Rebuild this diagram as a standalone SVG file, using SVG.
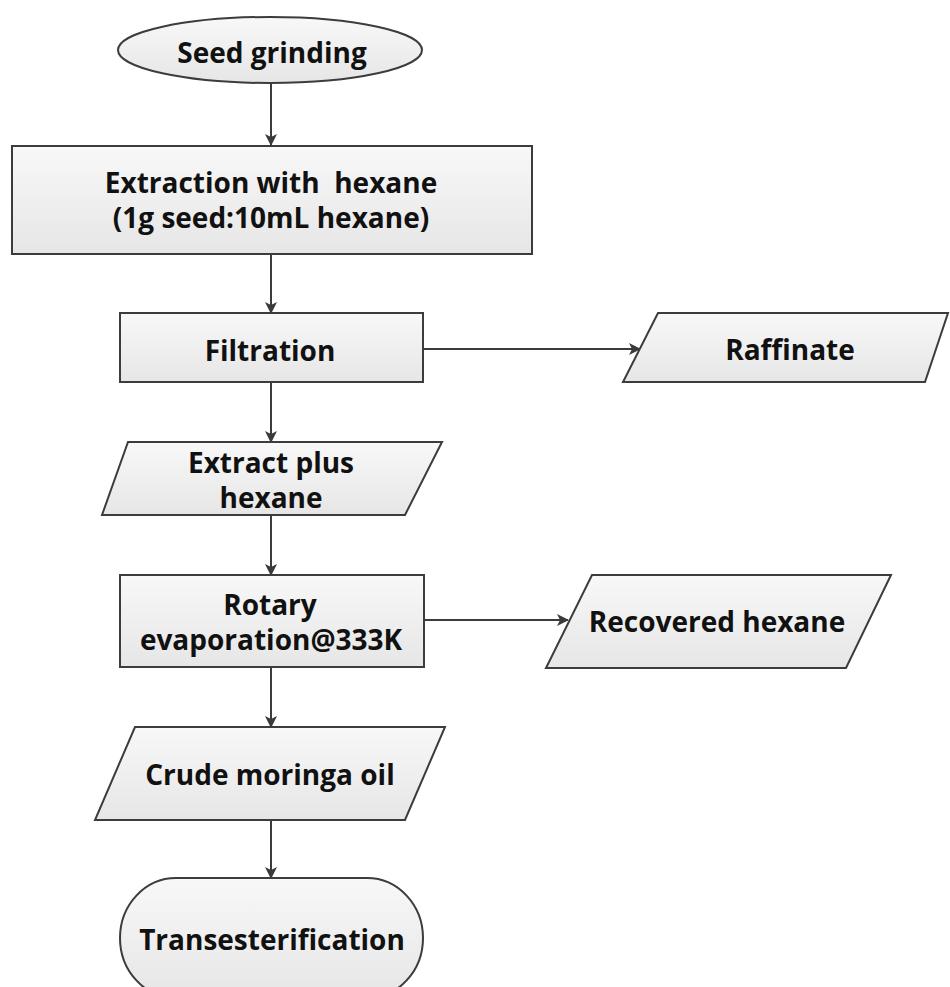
<svg xmlns="http://www.w3.org/2000/svg" width="950" height="987" viewBox="0 0 950 987">
<defs>
<linearGradient id="fillg" x1="0" y1="0" x2="0" y2="1">
<stop offset="0" stop-color="#f8f8f8"/>
<stop offset="1" stop-color="#e6e6e6"/>
</linearGradient>
<marker id="arr" viewBox="0 0 12 12" refX="11" refY="6" markerWidth="12" markerHeight="12" markerUnits="userSpaceOnUse" orient="auto">
<path d="M0,0 L12,6 L0,12 L3,6 z" fill="#3a3a3a"/>
</marker>
<style>
.shape{fill:url(#fillg);stroke:#3c3c3c;stroke-width:2}
.lbl{font-family:"Open Sans","DejaVu Sans",sans-serif;font-weight:700;font-size:28px;fill:#111;text-anchor:middle}
.conn{stroke:#3c3c3c;stroke-width:2;fill:none;marker-end:url(#arr)}
</style>
</defs>
<rect width="950" height="987" fill="#ffffff"/>
<g id="connectors">
<line class="conn" x1="271" y1="83" x2="271" y2="145"/>
<line class="conn" x1="271" y1="254" x2="271" y2="313"/>
<line class="conn" x1="423" y1="349" x2="640" y2="349"/>
<line class="conn" x1="271" y1="382" x2="271" y2="442"/>
<line class="conn" x1="271" y1="515" x2="271" y2="575"/>
<line class="conn" x1="424" y1="620" x2="568" y2="620"/>
<line class="conn" x1="271" y1="667" x2="271" y2="727"/>
<line class="conn" x1="271" y1="820" x2="271" y2="878"/>
</g>
<g id="seed-grinding">
<ellipse class="shape" cx="270" cy="50" rx="152" ry="33"/>
<text class="lbl" x="272" y="63">Seed grinding</text>
</g>
<g id="extraction">
<rect class="shape" x="12" y="146" width="520" height="108"/>
<text class="lbl" x="271" y="193" xml:space="preserve">Extraction with  hexane</text>
<text class="lbl" x="271" y="228">(1g seed:10mL hexane)</text>
</g>
<g id="filtration">
<rect class="shape" x="120" y="313" width="303" height="69"/>
<text class="lbl" x="270" y="361">Filtration</text>
</g>
<g id="raffinate">
<polygon class="shape" points="658,313 948,313 925,382 623,382"/>
<text class="lbl" x="790" y="360">Raffinate</text>
</g>
<g id="extract-plus-hexane">
<polygon class="shape" points="128,442 442,442 405,515 102,515"/>
<text class="lbl" x="271" y="473">Extract plus</text>
<text class="lbl" x="271" y="508">hexane</text>
</g>
<g id="rotary-evaporation">
<rect class="shape" x="120" y="575" width="304" height="92"/>
<text class="lbl" x="270" y="615">Rotary</text>
<text class="lbl" x="271" y="650">evaporation@333K</text>
</g>
<g id="recovered-hexane">
<polygon class="shape" points="592,575 891,575 846,668 546,668"/>
<text class="lbl" x="717" y="632">Recovered hexane</text>
</g>
<g id="crude-moringa-oil">
<polygon class="shape" points="135,727 445,727 405,820 95,820"/>
<text class="lbl" x="270" y="785">Crude moringa oil</text>
</g>
<g id="transesterification">
<rect class="shape" x="120" y="878" width="303" height="120" rx="56" ry="60"/>
<text class="lbl" x="272" y="950">Transesterification</text>
</g>
</svg>
